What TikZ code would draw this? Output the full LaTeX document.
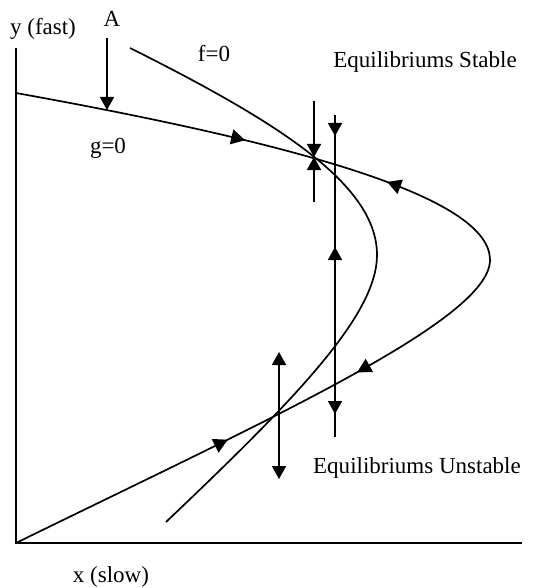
\documentclass[tikz,border=0pt]{standalone}
\usepackage{fontspec}
\setmainfont{Liberation Serif}
\usetikzlibrary{arrows.meta,decorations.markings}
\tikzset{
  tri/.tip={Triangle[length=13pt,width=14pt]},
  mtri/.tip={Triangle[length=14pt,width=15pt]},
  curve/.style={line width=1.7pt},
  axis/.style={line width=1.9pt},
  tipped/.style={curve,-tri},
  lbl/.style={inner sep=0pt, font=\fontsize{23}{27}\selectfont},
}
\begin{document}
\begin{tikzpicture}[x=1pt,y=-1pt]
\useasboundingbox (0,0) rectangle (548,588);
% axes
\coordinate (ytop) at (16,48);
\coordinate (origin) at (16,543);
\coordinate (xend) at (522,543);
\draw[axis] (ytop) -- (origin) -- (xend);
% g = 0
\draw[curve, postaction={decorate}, decoration={markings,
   mark=at position 234pt with {\arrow{mtri}},
   mark=at position 382pt with {\arrowreversed{mtri}},
   mark=at position 696pt with {\arrow{mtri}},
   mark=at position 842pt with {\arrowreversed{mtri}}}]
  (16,93) .. controls (316,147) and (490,200) .. (490,260)
          .. controls (490,320) and (266,420.5) .. (16,543);
% f = 0
\draw[curve] (130,48) .. controls (280,123) and (377,185) .. (377,255)
             .. controls (377,315) and (296,398.5) .. (166,522);
% arrow A
\coordinate (a1) at (107,38);
\coordinate (a2) at (107,110);
\draw[tipped] (a1) -- (a2);
% stable equilibrium vertical
\coordinate (s1t) at (314,101);
\coordinate (s1) at (314,157);
\coordinate (s1b) at (314,202);
\draw[tipped] (s1t) -- (s1);
\draw[tipped] (s1b) -- (s1);
% long vertical
\coordinate (v2t) at (335,115);
\coordinate (v2b) at (335,437);
\coordinate (v2a) at (335,136);
\coordinate (v2m0) at (335,300);
\coordinate (v2m) at (335,247);
\coordinate (v2c0) at (335,380);
\coordinate (v2c) at (335,414);
\draw[curve] (v2t) -- (v2b);
\draw[tipped] (v2t) -- (v2a);
\draw[tipped] (v2m0) -- (v2m);
\draw[tipped] (v2c0) -- (v2c);
% unstable vertical
\coordinate (u1) at (279,352);
\coordinate (u2) at (279,479);
\draw[curve,tri-tri] (u1) -- (u2);
% labels
\node[lbl] (ylab) at (43,29) {y (fast)};
\node[lbl] (alab) at (112,18.5) {A};
\node[lbl] (flab) at (214,54) {f=0};
\node[lbl] (glab) at (108,148) {g=0};
\node[lbl] (stab) at (425,62) {Equilibriums Stable};
\node[lbl] (unst) at (417,468) {Equilibriums Unstable};
\node[lbl] (xlab) at (111,577) {x (slow)};
\end{tikzpicture}
\end{document}
